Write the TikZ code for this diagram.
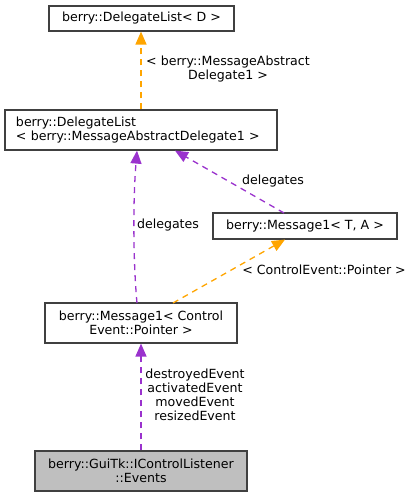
\documentclass[tikz,border=0pt]{standalone}
\usepackage{fontspec}
\setmainfont{DejaVu Sans}
\usetikzlibrary{arrows.meta}
\definecolor{dorange}{HTML}{FFA500}
\definecolor{dpurple}{HTML}{9A32CD}
\definecolor{boxgray}{HTML}{BFBFBF}
\definecolor{boxline}{HTML}{404040}
\begin{document}
\begin{tikzpicture}[x=1pt,y=-1pt,
  fnt/.style={font=\fontsize{12.6}{14}\selectfont},
  cls/.style={draw=boxline,line width=1.2pt,fill=white,inner sep=0pt,fnt},
  lbl/.style={fnt,inner sep=0pt,align=center},
  inh/.style={draw=dorange,dash pattern=on 6pt off 5pt,line width=1.3pt,-{Triangle[length=13pt,width=11pt]}},
  use/.style={draw=dpurple,dash pattern=on 6pt off 5pt,line width=1.3pt,-{Triangle[length=13pt,width=11pt]}}]
\useasboundingbox (0,0) rectangle (416,497);
\node[cls,minimum width=185pt,minimum height=25pt] (n1) at (141.5,18.5) {berry::DelegateList< D >};
\node[cls,text width=250pt,minimum height=40pt,align=left,inner xsep=11pt] (n2) at (141,130) {berry::DelegateList\\< berry::MessageAbstractDelegate1 >};
\node[cls,minimum width=184pt,minimum height=26pt] (n3) at (305,226) {berry::Message1< T, A >};
\node[cls,minimum width=192pt,minimum height=40pt,align=center] (n4) at (141,323) {berry::Message1< Control\\Event::Pointer >};
\node[cls,fill=boxgray,minimum width=212pt,minimum height=40pt,align=center] (n5) at (141,471) {berry::GuiTk::IControlListener\\::Events};
\draw[inh] (n2.north -| 141,0) -- (n1.south -| 141,0);
\node[lbl] (l1) at (228,69) {< berry::MessageAbstract\\Delegate1 >};
\draw[use] (137,303) .. controls (133,260) and (133,200) .. (137,150.6);
\node[lbl] (l2) at (168,225) {delegates};
\draw[use] (284,213) -- (175,150.6);
\node[lbl] (l3) at (273,181) {delegates};
\draw[inh] (173,303) -- (285,239.6);
\node[lbl] (l4) at (324,270) {< ControlEvent::Pointer >};
\draw[use] (n5.north -| 141,0) -- (n4.south -| 141,0);
\node[lbl] (l5) at (195,395) {destroyedEvent\\activatedEvent\\movedEvent\\resizedEvent};
\end{tikzpicture}
\end{document}
